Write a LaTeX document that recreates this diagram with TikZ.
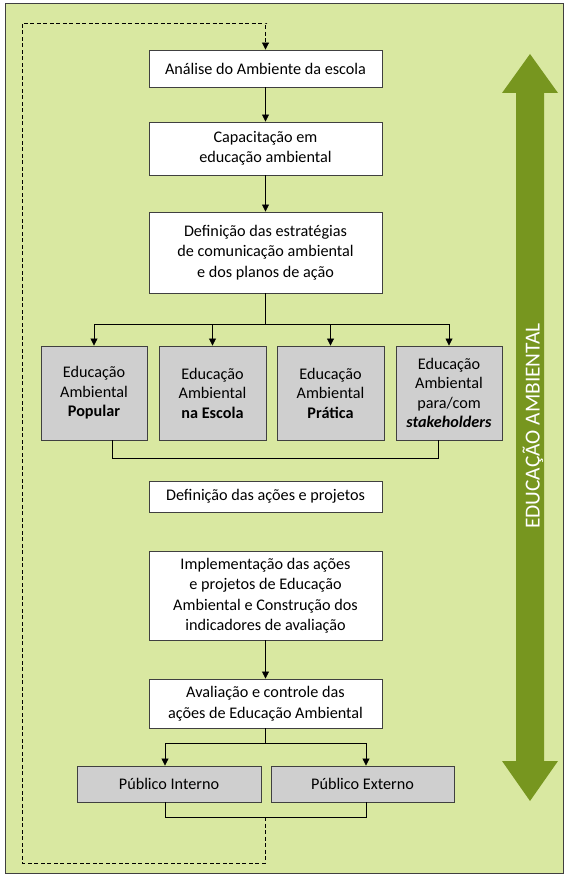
\documentclass[tikz,border=0pt]{standalone}
\usepackage{fontspec}
\setmainfont{Carlito}
\usetikzlibrary{arrows.meta,positioning,calc}
\definecolor{leafbg}{HTML}{D9E8A1}
\definecolor{olivebar}{HTML}{77961F}
\definecolor{boxgray}{HTML}{CFCFCF}
\definecolor{edgegray}{HTML}{404040}
\tikzset{
  stagebox/.style={draw=edgegray, fill=white, line width=0.9pt, minimum width=233pt,
    align=center, inner sep=0pt, font=\fontsize{16.2}{20.5}\selectfont},
  typebox/.style={draw=edgegray, fill=boxgray, line width=0.9pt, minimum width=106pt,
    minimum height=94pt, align=center, inner sep=0pt, font=\fontsize{16.2}{19.5}\selectfont},
  publicbox/.style={draw=edgegray, fill=boxgray, line width=0.9pt, minimum width=184pt,
    minimum height=36pt, align=center, inner sep=0pt, font=\fontsize{16.2}{20.5}\selectfont},
  flow/.style={-{Triangle[width=7pt,length=7pt]}, line width=0.8pt},
  link/.style={line width=0.8pt},
}

\begin{document}
\begin{tikzpicture}[x=1pt,y=-1pt]
\useasboundingbox (0,0) rectangle (572,880);
% frame
\draw[edgegray, fill=leafbg, line width=1pt] (5,4) rectangle (563,873);

% double arrow on the right
\fill[olivebar] (516,93) -- (502,93) -- (530,54) -- (558,93) -- (544,93)
  -- (544,761) -- (558,761) -- (530,801) -- (502,761) -- (516,761) -- cycle;
\node[rotate=90, text=white, font=\fontsize{21.4}{24}\selectfont] (eatitle) at (533,426) {EDUCAÇÃO AMBIENTAL};

% main stages
\node[stagebox, minimum height=37pt] (analise) at (265.5,68.5) {Análise do Ambiente da escola};
\node[stagebox, minimum height=53pt] (capac) at (265.5,148.5) {Capacitação em\\educação ambiental};
\node[stagebox, minimum height=81pt] (estrat) at (265.5,252.5) {Definição das estratégias\\de comunicação ambiental\\e dos planos de ação};

% types of environmental education
\node[typebox] (popular) at (94,393) {Educação\\Ambiental\\\textbf{Popular}};
\node[typebox, minimum width=107pt] (escola) at (212.5,393) {Educação\\Ambiental\\\textbf{na Escola}};
\node[typebox, minimum width=107pt] (pratica) at (330.5,393) {Educação\\Ambiental\\\textbf{Prática}};
\node[typebox] (stake) at (449,393) {Educação\\Ambiental\\para/com\\\textbf{\textit{stakeholders}}};

\node[stagebox, minimum height=31pt] (acoes) at (265.5,496.5) {Definição das ações e projetos};
\node[stagebox, minimum height=89pt] (implem) at (265.5,595.5) {Implementação das ações\\e projetos de Educação\\Ambiental e Construção dos\\indicadores de avaliação};
\node[stagebox, minimum height=49pt] (aval) at (265.5,703.5) {Avaliação e controle das\\ações de Educação Ambiental};

\node[publicbox] (interno) at (169,784) {Público Interno};
\node[publicbox, minimum width=183pt] (externo) at (362.5,784) {Público Externo};

% connectors
\draw[flow] (analise) -- (capac);
\draw[flow] (capac) -- (estrat);

\coordinate (split) at (estrat.south |- 0,324);
\draw[link] (estrat.south) -- (split);
\draw[link] (popular.north |- split) -- (stake.north |- split);
\foreach \t in {popular,escola,pratica,stake}
  \draw[flow] (\t.north |- split) -- (\t.north);

\coordinate (joinl) at (112,458);
\coordinate (joinr) at (438,458);
\draw[link] (joinl |- popular.south) -- (joinl) -- (joinr) -- (joinr |- stake.south);

\draw[flow] (implem) -- (aval);

\coordinate (psplit) at (aval.south |- 0,743);
\coordinate (pl) at (165,743);
\coordinate (pr) at (366,743);
\draw[link] (aval.south) -- (psplit);
\draw[link] (pl) -- (pr);
\draw[flow] (pl) -- (pl |- interno.north);
\draw[flow] (pr) -- (pr |- externo.north);

\coordinate (bl) at (165,817);
\coordinate (br) at (366,817);
\draw[link] (bl |- interno.south) -- (bl) -- (br) -- (br |- externo.south);

% feedback loop
\coordinate (back) at (265,817);
\draw[flow, dash pattern=on 4pt off 2.5pt, line width=0.9pt] (back) -- (265,863) -- (22,863) -- (22,23) -- (267,23) -- (267,23 -| analise.north) -- (analise.north);
\end{tikzpicture}
\end{document}
